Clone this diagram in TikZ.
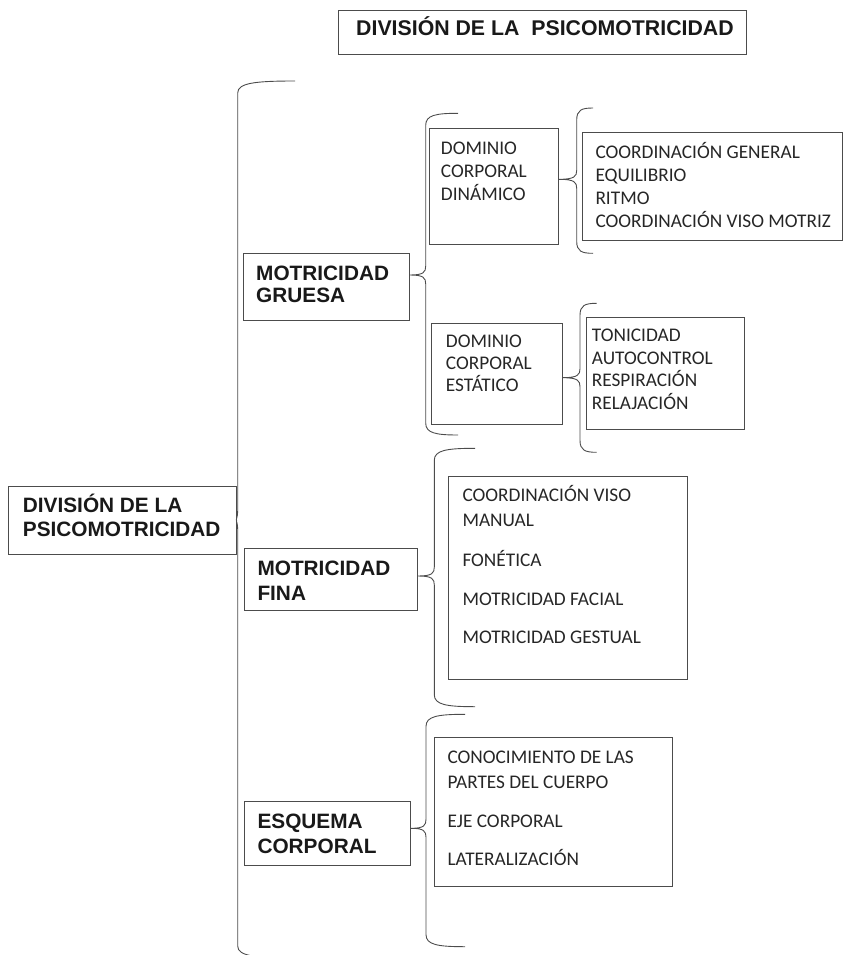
\documentclass[tikz,border=0pt]{standalone}
\usepackage{fontspec}
\setmainfont{Carlito}
\newfontfamily\arial{Liberation Sans}

\tikzset{
  caja/.style={draw=black!70, line width=0.9pt, anchor=north west, inner sep=0pt},
  negrita/.style={anchor=base west, align=left, inner sep=0pt, text=black!90,
    font=\arial\bfseries\fontsize{20.8}{24}\selectfont},
  lista/.style={anchor=base west, align=left, inner sep=0pt, text=black!85,
    font=\fontsize{19.3}{23}\selectfont},
  listaancha/.style={lista, font=\fontsize{19.3}{25.3}\selectfont},
  llave/.style={draw=black!70, line width=0.9pt}
}

% curly bracket: x, top, bottom, end x, tip point, tip y
\newcommand{\llave}[6]{%
  \draw[llave] (#4,-#2) .. controls ({#1+0.3*(#4-#1)},-#2) and (#1,{-#2-2}) .. (#1,{-#2-12})
    -- (#1,{-#6+9}) .. controls (#1,{-#6+3}) and ({#1-2},-#6) .. (#5)
    .. controls ({#1-2},-#6) and (#1,{-#6-3}) .. (#1,{-#6-9})
    -- (#1,{-#3+12}) .. controls (#1,{-#3+2}) and ({#1+0.3*(#4-#1)},-#3) .. (#4,-#3);}

\begin{document}
\begin{tikzpicture}[x=1pt,y=1pt]
    \clip (0,0) rectangle (843,-955);

    % title
    \node[caja, minimum width=407.4, minimum height=44.3] (titulo) at (338.3,-10) {};
    \node[negrita, font=\arial\bfseries\fontsize{21.3}{24}\selectfont] (titulotxt) at (356,-36) {DIVISIÓN DE LA\ \ PSICOMOTRICIDAD};

    % first level (text nodes sit on the baseline of their last line)
    \node[caja, minimum width=227.4, minimum height=68.6] (raiz) at (8.3,-485.7) {};
    \node[negrita] (raiztxt) at (22.7,-536.7) {DIVISIÓN DE LA\\PSICOMOTRICIDAD};

    \node[caja, minimum width=166.6, minimum height=66.7] (gruesa) at (242.7,-253.3) {};
    \node[negrita, font=\arial\bfseries\fontsize{20.8}{22.7}\selectfont] (gruesatxt) at (256,-302.7) {MOTRICIDAD\\GRUESA};

    \node[caja, minimum width=173.6, minimum height=61.7] (fina) at (243.7,-548.3) {};
    \node[negrita, font=\arial\bfseries\fontsize{20.8}{25.7}\selectfont] (finatxt) at (257.3,-600.7) {MOTRICIDAD\\FINA};

    \node[caja, minimum width=166.6, minimum height=64] (esquema) at (243.7,-801) {};
    \node[negrita, font=\arial\bfseries\fontsize{20.8}{25}\selectfont] (esquematxt) at (257.3,-853.3) {ESQUEMA\\CORPORAL};

    % second level
    \node[caja, minimum width=129, minimum height=115.7] (dinamico) at (429,-128.3) {};
    \node[lista] (dinamicotxt) at (440.7,-200.3) {DOMINIO\\CORPORAL\\DINÁMICO};

    \node[caja, minimum width=130.7, minimum height=100.7] (estatico) at (431,-323.3) {};
    \node[lista, font=\fontsize{19.3}{22.2}\selectfont] (estaticotxt) at (445.7,-391.7) {DOMINIO\\CORPORAL\\ESTÁTICO};

    % lists
    \node[caja, minimum width=260.3, minimum height=108.3] (listadin) at (581.7,-132) {};
    \node[lista, font=\fontsize{19.3}{23.2}\selectfont] (listadintxt) at (595.3,-227.7)
        {COORDINACIÓN GENERAL\\EQUILIBRIO\\RITMO\\COORDINACIÓN VISO MOTRIZ};

    \node[caja, minimum width=158, minimum height=112.6] (listaest) at (586,-316.7) {};
    \node[lista, font=\fontsize{19.3}{22.5}\selectfont] (listaesttxt) at (591.7,-409.3)
        {TONICIDAD\\AUTOCONTROL\\RESPIRACIÓN\\RELAJACIÓN};

    \node[caja, minimum width=238.4, minimum height=203.3] (listafina) at (448.3,-475.7) {};
    \node[listaancha, font=\fontsize{19.3}{25}\selectfont] (listafinatxt) at (462.3,-643.3)
        {COORDINACIÓN VISO\\MANUAL\\[15pt]FONÉTICA\\[14pt]MOTRICIDAD FACIAL\\[13.3pt]MOTRICIDAD GESTUAL};

    \node[caja, minimum width=238, minimum height=148.7] (listaesq) at (434,-737.3) {};
    \node[listaancha] (listaesqtxt) at (447.3,-865.7)
        {CONOCIMIENTO DE LAS\\PARTES DEL CUERPO\\[13.7pt]EJE CORPORAL\\[13pt]LATERALIZACIÓN};

    % brackets
    \llave{237.7}{81}{958}{295}{raiz.east}{520}
    \llave{425.7}{113.3}{435}{458}{gruesa.east |- 0,-275}{275}
    \llave{576.7}{108}{253.3}{593}{dinamico.east |- 0,-179.3}{179.3}
    \llave{580}{303.3}{452.3}{596.7}{estatico.east |- 0,-377.7}{377.7}
    \llave{434.3}{448.3}{706.7}{475}{fina.east |- 0,-576}{576}
    \llave{426}{714.3}{946.7}{465}{esquema.east |- 0,-828.3}{828.3}
\end{tikzpicture}
\end{document}
